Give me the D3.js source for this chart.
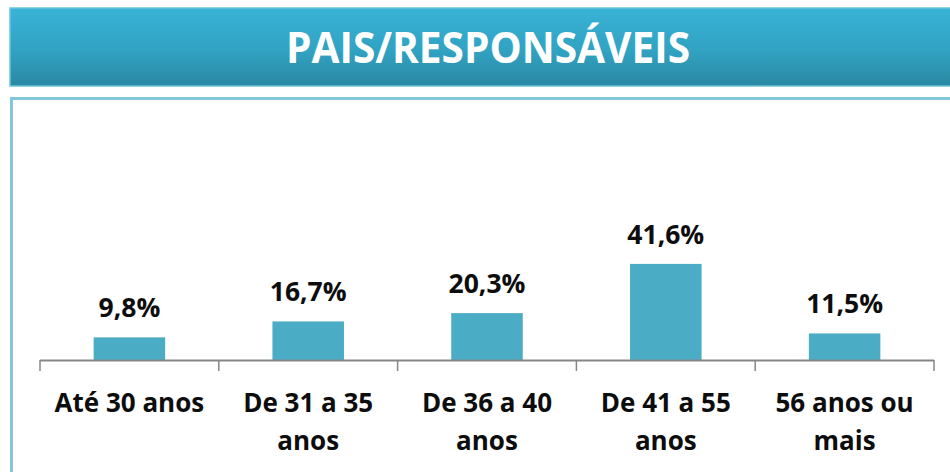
<!DOCTYPE html>
<html>
<head>
<meta charset="utf-8">
<script src="https://cdn.jsdelivr.net/npm/d3@7"></script>
<style>
  body { margin: 0; background: #fff; }
  svg { display: block; }
</style>
</head>
<body>
<script>
var title = "PAIS/RESPONSÁVEIS";
var categories = ["Até 30 anos", "De 31 a 35 anos", "De 36 a 40 anos", "De 41 a 55 anos", "56 anos ou mais"];
var values = [9.8, 16.7, 20.3, 41.6, 11.5];
var valueLabels = ["9,8%", "16,7%", "20,3%", "41,6%", "11,5%"];

var w = 950, h = 472;
var font = "'Open Sans', 'DejaVu Sans', sans-serif";

var svg = d3.select("body").append("svg")
    .attr("width", w)
    .attr("height", h);

// gradient for the title banner
var defs = svg.append("defs");
var grad = defs.append("linearGradient")
    .attr("id", "banner")
    .attr("x1", 0).attr("y1", 0).attr("x2", 0).attr("y2", 1);
grad.append("stop").attr("offset", "0%").attr("stop-color", "#38b3d7");
grad.append("stop").attr("offset", "55%").attr("stop-color", "#31a2c2");
grad.append("stop").attr("offset", "100%").attr("stop-color", "#2a88a2");

// banner
svg.append("rect")
    .attr("x", 10).attr("y", 8)
    .attr("width", w - 10 + 2).attr("height", 78)
    .attr("fill", "url(#banner)")
    .attr("stroke", "#6cc3dc")
    .attr("stroke-width", 1.5);

svg.append("text")
    .attr("x", 488).attr("y", 63)
    .attr("text-anchor", "middle")
    .attr("textLength", 404)
    .attr("lengthAdjust", "spacingAndGlyphs")
    .style("font-family", font)
    .style("font-weight", "bold")
    .style("font-size", "43px")
    .style("fill", "#fff")
    .text(title);

// chart panel
svg.append("path")
    .attr("d", "M11.5," + h + "V98.5H" + w)
    .attr("fill", "none")
    .attr("stroke", "#80c8d9")
    .attr("stroke-width", 3);

// scales
var x = d3.scaleBand()
    .domain(categories)
    .range([40, 934])
    .paddingInner(0.6)
    .paddingOuter(0.3);

var xTicks = d3.scalePoint()
    .domain(d3.range(categories.length + 1))
    .range([40, 934]);

var baseY = 360;
var y = d3.scaleLinear()
    .domain([0, 50])
    .range([baseY, baseY - 115.5]);

var chart = svg.append("g");

// bars
chart.selectAll(".bar")
    .data(values)
    .enter()
    .append("rect")
    .classed("bar", true)
    .attr("x", function(d, i) { return x(categories[i]); })
    .attr("y", function(d) { return y(d); })
    .attr("width", x.bandwidth())
    .attr("height", function(d) { return y(0) - y(d); })
    .attr("fill", "#4bacc6");

// value labels
chart.selectAll(".val")
    .data(values)
    .enter()
    .append("text")
    .classed("val", true)
    .attr("x", function(d, i) { return x(categories[i]) + x.bandwidth() / 2; })
    .attr("y", function(d) { return y(d) - 20; })
    .attr("text-anchor", "middle")
    .style("font-family", font)
    .style("font-weight", "bold")
    .style("font-size", "26.5px")
    .style("fill", "#0d0d0d")
    .text(function(d, i) { return valueLabels[i]; });

// axis line and ticks
chart.append("line")
    .attr("x1", xTicks(0)).attr("x2", xTicks(categories.length))
    .attr("y1", baseY + 0.5).attr("y2", baseY + 0.5)
    .style("stroke", "#868686")
    .style("stroke-width", 2);

chart.selectAll(".tick")
    .data(xTicks.domain())
    .enter()
    .append("line")
    .classed("tick", true)
    .attr("x1", function(d) { return xTicks(d); })
    .attr("x2", function(d) { return xTicks(d); })
    .attr("y1", baseY)
    .attr("y2", baseY + 11)
    .style("stroke", "#868686")
    .style("stroke-width", 1.5);

// category labels, wrapped to two lines when long
function wrapLabel(s) {
    if (s.length <= 11) return [s];
    var words = s.split(" ");
    var line1 = [], line2 = [];
    words.forEach(function(wd) {
        if (line2.length === 0 && (line1.concat([wd]).join(" ").length <= 11)) line1.push(wd);
        else line2.push(wd);
    });
    return [line1.join(" "), line2.join(" ")];
}

var catText = chart.selectAll(".cat")
    .data(categories)
    .enter()
    .append("text")
    .classed("cat", true)
    .attr("text-anchor", "middle")
    .style("font-family", font)
    .style("font-weight", "bold")
    .style("font-size", "26px")
    .style("fill", "#0d0d0d");

catText.each(function(d) {
    var t = d3.select(this);
    var cx = x(d) + x.bandwidth() / 2;
    wrapLabel(d).forEach(function(ln, k) {
        t.append("tspan")
            .attr("x", cx)
            .attr("y", 412 + k * 38)
            .text(ln);
    });
});
</script>
</body>
</html>
